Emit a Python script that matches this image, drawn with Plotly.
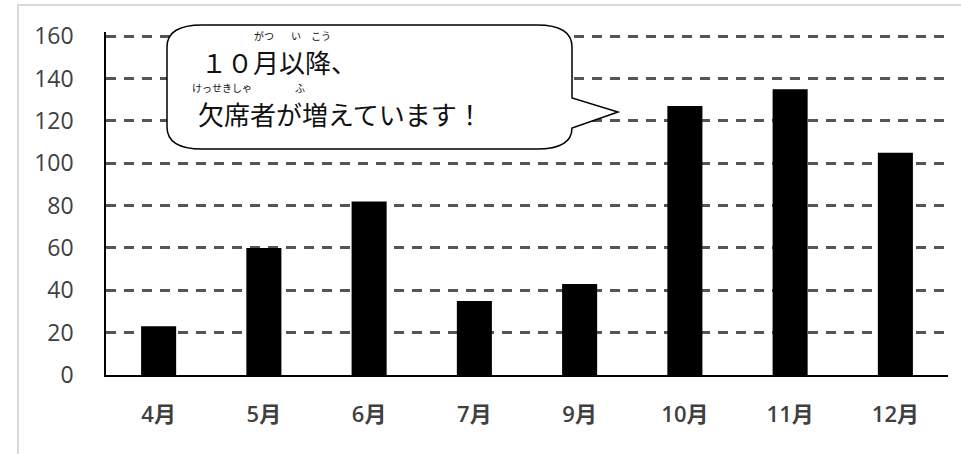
import plotly.graph_objects as go

months = ["4月", "5月", "6月", "7月", "9月", "10月", "11月", "12月"]
absences = [23, 60, 82, 35, 43, 127, 135, 105]
y_ticks = [0, 20, 40, 60, 80, 100, 120, 140, 160]

W, H = 961, 454
L, R, T, B = 106, 13, 32, 79
PW, PH = W - L - R, H - T - B


def px(x):
    return (x - L) / PW


def py(y):
    return (H - B - y) / PH


fig = go.Figure(go.Bar(x=months, y=absences, marker=dict(color="black", line=dict(width=0))))

# callout bubble (rounded rect with wedge to the right)
x0, x1, y0, y1 = 167, 572, 25, 149
rx, ry = 35, 22
pts = [
    ("M", [(x0 + rx, y0)]),
    ("L", [(x1 - rx, y0)]),
    ("Q", [(x1, y0), (x1, y0 + ry)]),
    ("L", [(x1, 98)]),
    ("L", [(618, 112)]),
    ("L", [(x1, 128)]),
    ("Q", [(x1, y1), (x1 - rx, y1)]),
    ("L", [(x0 + rx, y1)]),
    ("Q", [(x0, y1), (x0, y1 - ry)]),
    ("L", [(x0, y0 + ry)]),
    ("Q", [(x0, y0), (x0 + rx, y0)]),
]
path = " ".join(c + " " + " ".join(f"{px(a):.5f},{py(b):.5f}" for a, b in p) for c, p in pts) + " Z"

shapes = [
    dict(type="rect", xref="paper", yref="paper", x0=px(18), y0=py(5), x1=px(1100), y1=py(600),
         line=dict(color="#d9d9d9", width=2), fillcolor="rgba(0,0,0,0)", layer="below"),
    dict(type="path", xref="paper", yref="paper", path=path, fillcolor="white",
         line=dict(color="black", width=1.5), layer="above"),
]

jp = "Noto Sans CJK JP"
annotations = [
    dict(text="１０月以降、", x=px(199), y=py(62), xanchor="left", yanchor="middle"),
    dict(text="欠席者が増えています！", x=px(196), y=py(114), xanchor="left", yanchor="middle"),
]
for a in annotations:
    a.update(xref="paper", yref="paper", showarrow=False, font=dict(family=jp, size=26, color="#111"))

ruby = [("がつ", 264, 36), ("い", 296, 36), ("こう", 321, 36), ("けっせきしゃ", 222, 88), ("ふ", 300, 88)]
for t, xx, yy in ruby:
    annotations.append(dict(text=t, x=px(xx), y=py(yy), xref="paper", yref="paper", showarrow=False,
                            xanchor="center", yanchor="middle", font=dict(family=jp, size=10, color="#111")))

fig.update_layout(
    width=W, height=H,
    margin=dict(l=L, r=R, t=T, b=B),
    paper_bgcolor="white", plot_bgcolor="white",
    bargap=0.667,
    showlegend=False,
    shapes=shapes,
    annotations=annotations,
    xaxis=dict(showline=True, linecolor="black", linewidth=2, ticks="", showgrid=False,
               tickfont=dict(family="Open Sans, " + jp, size=22, color="#404040", weight=600),
               ticklabelstandoff=19),
    yaxis=dict(range=[0, 162], tickvals=y_ticks, showline=True, linecolor="black", linewidth=1.5,
               showgrid=True, gridcolor="#555555", gridwidth=2.5, griddash="10px,8px",
               zeroline=False, ticks="",
               tickfont=dict(family="Open Sans", size=23, color="#404040"),
               ticklabelstandoff=26),
)

fig.write_html("out.html")
